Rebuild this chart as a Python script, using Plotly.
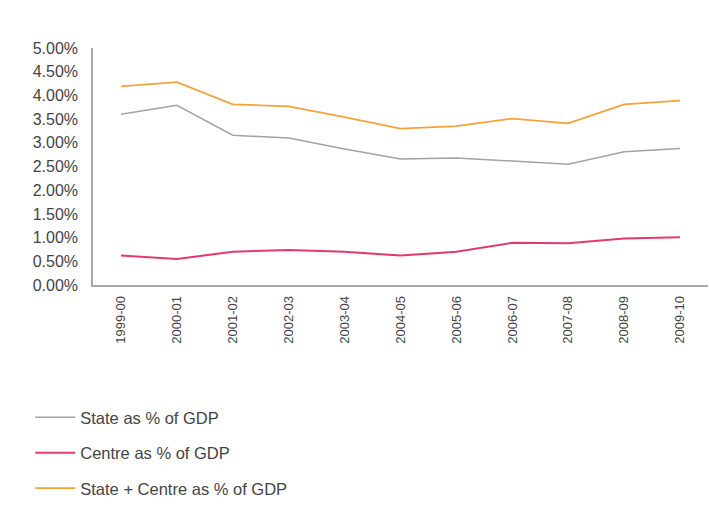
import plotly.graph_objects as go

years = ["1999-00", "2000-01", "2001-02", "2002-03", "2003-04", "2004-05",
         "2005-06", "2006-07", "2007-08", "2008-09", "2009-10"]
state = [3.60, 3.79, 3.16, 3.10, 2.87, 2.66, 2.68, 2.62, 2.55, 2.81, 2.88]
centre = [0.62, 0.55, 0.70, 0.74, 0.70, 0.62, 0.70, 0.89, 0.88, 0.98, 1.01]
total = [4.19, 4.28, 3.81, 3.77, 3.54, 3.30, 3.35, 3.51, 3.41, 3.81, 3.89]
y_ticks = [0, 0.5, 1.0, 1.5, 2.0, 2.5, 3.0, 3.5, 4.0, 4.5, 5.0]
y_tick_labels = ["0.00%", "0.50%", "1.00%", "1.50%", "2.00%", "2.50%",
                 "3.00%", "3.50%", "4.00%", "4.50%", "5.00%"]

FONT = "Liberation Sans, Arial, sans-serif"

fig = go.Figure()
fig.add_trace(go.Scatter(x=years, y=state, mode="lines", name="State as % of GDP",
                         line=dict(color="#a3a3a3", width=1.5), legendgroup="a"))
fig.add_trace(go.Scatter(x=years, y=centre, mode="lines", name="Centre as % of GDP",
                         line=dict(color="#e23a6e", width=2), legendgroup="b"))
fig.add_trace(go.Scatter(x=years, y=total, mode="lines", name="State + Centre as % of GDP",
                         line=dict(color="#f2a33a", width=1.8), legendgroup="c"))

fig.update_layout(
    width=709, height=506,
    margin=dict(l=93, r=1, t=48, b=220),
    paper_bgcolor="white", plot_bgcolor="white",
    font=dict(family=FONT, color="#444444", size=13),
    showlegend=True,
    legend=dict(x=-0.102, xanchor="left", y=-0.483, yanchor="top",
                orientation="v", tracegroupgap=11, font=dict(size=16.5, color="#444444"),
                itemwidth=40, bgcolor="rgba(0,0,0,0)"),
    xaxis=dict(type="category", range=[-0.5, 10.5], showline=True, linecolor="#a8a8a8",
               linewidth=1.5, showgrid=False, zeroline=False, ticks="", tickangle=-90,
               tickfont=dict(size=13, color="#444444"), ticklabelstandoff=4),
    yaxis=dict(range=[0, 5], tickvals=y_ticks, ticktext=y_tick_labels,
               showline=True, linecolor="#a8a8a8", linewidth=1.5, showgrid=False,
               zeroline=False, ticks="", tickfont=dict(size=16, color="#444444"),
               ticklabelstandoff=10),
)

fig.write_html("out.html", post_script="document.body.style.margin='0';",
               config={"displayModeBar": False})
